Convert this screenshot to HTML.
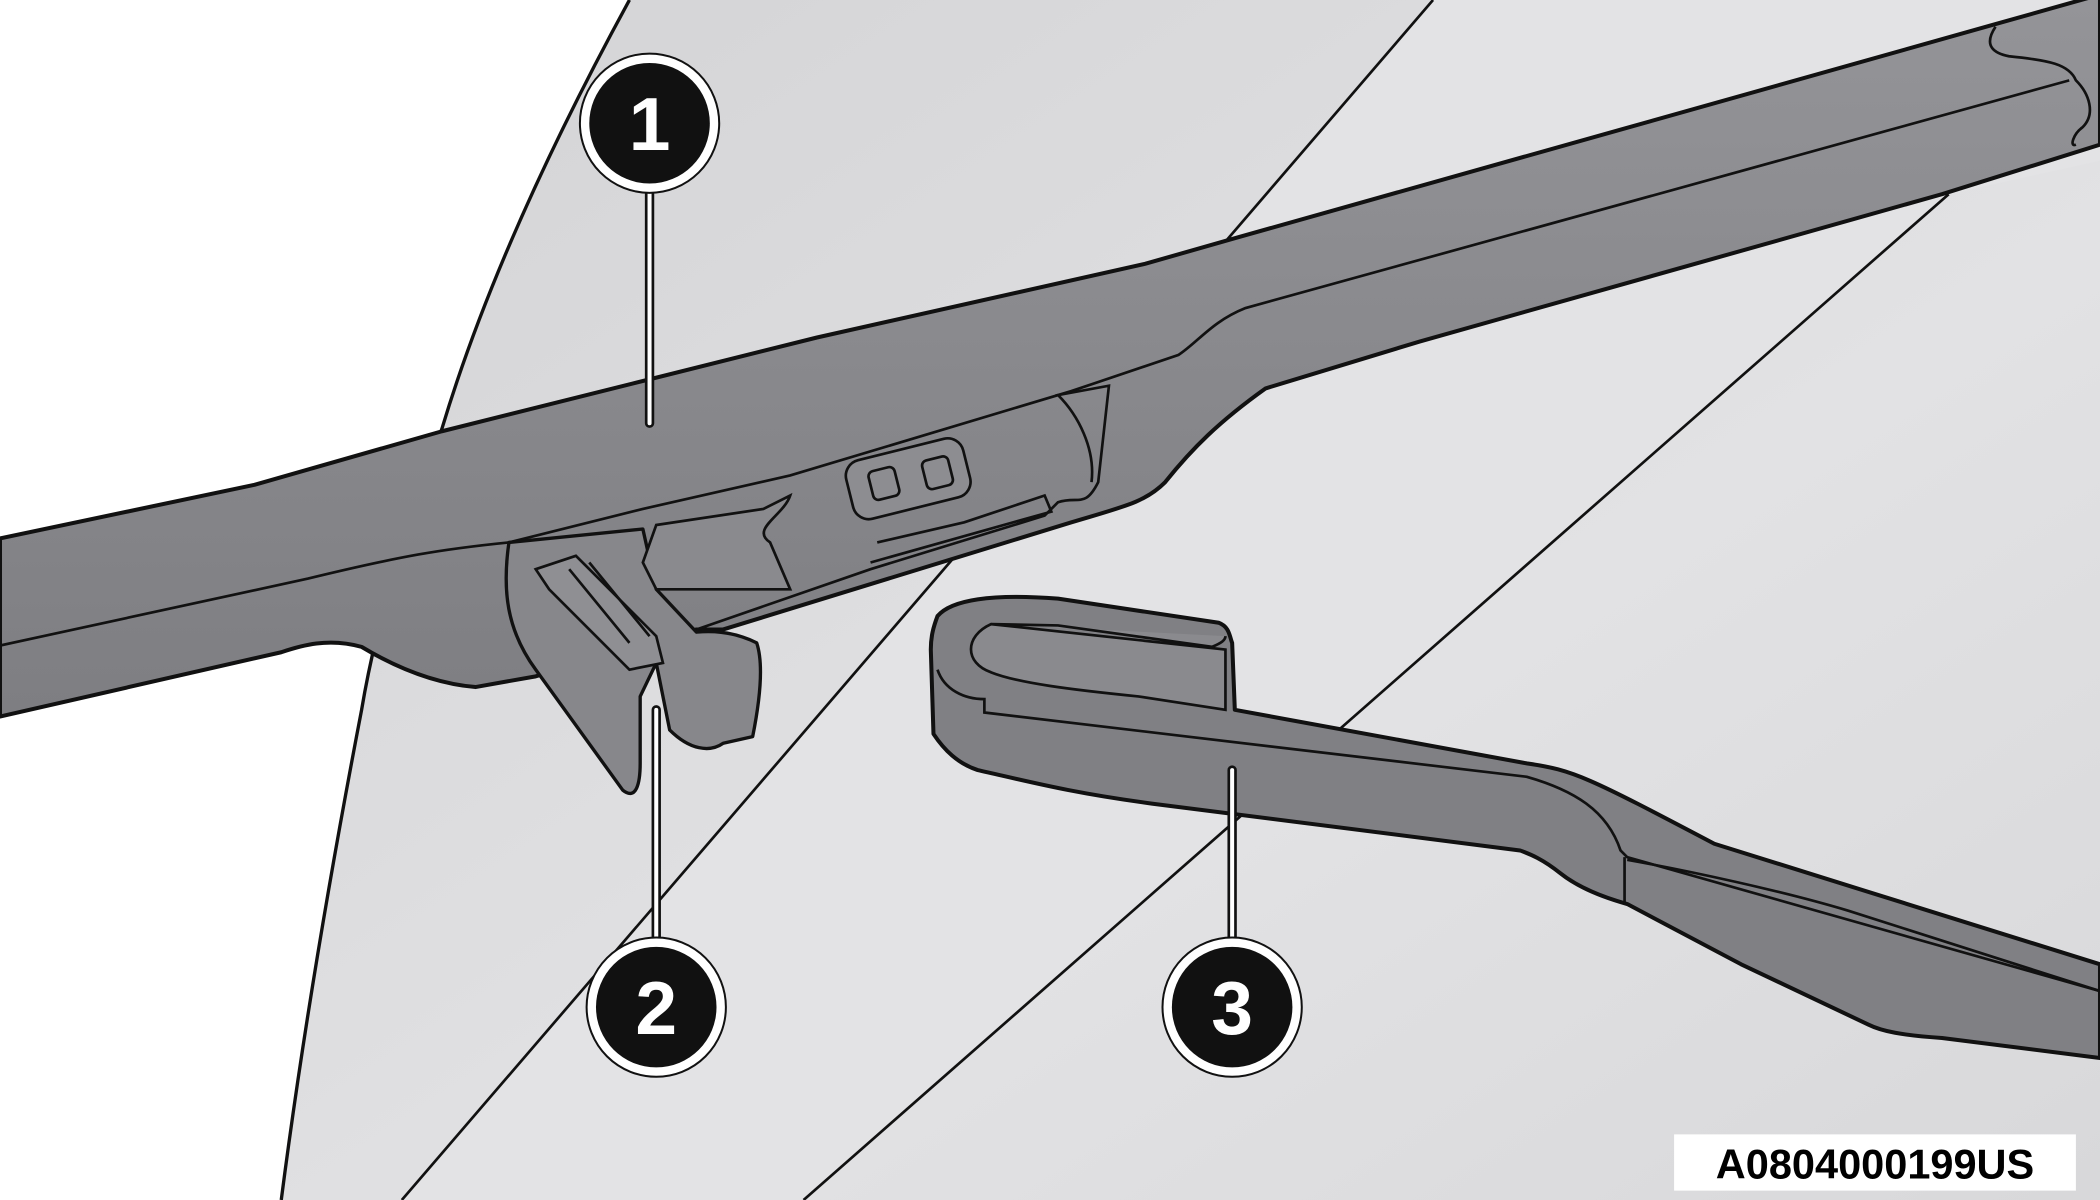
<!DOCTYPE html>
<html><head><meta charset="utf-8"><style>
html,body{margin:0;padding:0;background:#fff;width:2100px;height:1200px;overflow:hidden}
svg{display:block}
</style></head><body>
<svg width="2100" height="1200" viewBox="0 0 1568 896" xmlns="http://www.w3.org/2000/svg">
<defs>
<linearGradient id="g1" x1="0" y1="0" x2="1" y2="1">
<stop offset="0" stop-color="#d3d3d5"/><stop offset="0.6" stop-color="#e2e2e4"/><stop offset="1" stop-color="#d8d8da"/>
</linearGradient>
<linearGradient id="bl" x1="0" y1="0" x2="0" y2="1">
<stop offset="0" stop-color="#949498"/><stop offset="1" stop-color="#7e7e82"/>
</linearGradient>
</defs>
<rect width="1568" height="896" fill="#fff"/>
<!-- glass -->
<path d="M470,0 C410,110 360,220 330,320 C300,400 280,470 270,530 C245,660 225,780 210,896 L1568,896 L1568,0 Z" fill="url(#g1)"/>
<path d="M470,0 C410,110 360,220 330,320 C300,400 280,470 270,530 C245,660 225,780 210,896" fill="none" stroke="#111" stroke-width="2.5"/>
<path d="M1070,0 L300,896 L600,896 L1455,145 L1568,120 L1568,0 Z" fill="#e3e3e5"/>
<path d="M1070,0 L300,896" stroke="#111" stroke-width="2"/>
<path d="M1455,145 L600,896" stroke="#111" stroke-width="2"/>
<!-- blade -->
<path d="M0,402 L190,362 L330,322 L610,252 L855,197 L925,177 L1490,18 L1568,-4 L1568,108 L1450,145 L1060,255 L945,290 C910,315 890,335 870,360 C855,375 840,378 800,390 L540,470 L520,470 L400,505 L355,513 C320,510 290,495 270,483 C245,476 225,482 210,487 L0,535 Z" fill="url(#bl)" stroke="#111" stroke-width="3" stroke-linejoin="round"/>
<path d="M0,482 L230,432 C300,415 330,410 380,405 L480,380 L590,355 L800,292 L880,265 C895,255 905,240 930,230 L1545,60" fill="none" stroke="#111" stroke-width="2"/>
<path d="M1490,20 C1480,35 1490,40 1500,42 C1530,45 1545,48 1550,60 C1560,70 1565,85 1555,95 C1548,100 1545,110 1550,108" fill="none" stroke="#111" stroke-width="2"/>
<!-- attachment -->
<path d="M380,405 C375,440 378,470 400,500 L465,590 C475,598 478,585 478,570 L478,520 L490,495 L500,545 C515,560 530,562 540,555 L562,550 C568,520 570,495 565,480 C555,475 540,470 520,472 L490,440 L480,395 Z" fill="#87878b" stroke="#111" stroke-width="2.5" stroke-linejoin="round"/>
<path d="M400,425 L430,415 L490,475 L495,495 L470,500 L410,440 Z" fill="#8f8f93" stroke="#111" stroke-width="2"/>
<path d="M425,425 L470,480 M440,420 L485,475" stroke="#111" stroke-width="2"/>
<path d="M480,420 L490,392 L570,380 L590,370 C585,385 560,395 575,405 L590,440 L490,440 Z" fill="#8a8a8e" stroke="#111" stroke-width="2"/>
<path d="M520,470 L650,425 L780,385 L790,375 C805,370 810,380 820,360 L828,288 L790,295 C805,310 818,335 815,360" fill="none" stroke="#111" stroke-width="2"/>
<rect x="633" y="335" width="90" height="45" rx="12" transform="rotate(-14 678 357)" fill="#8d8d91" stroke="#111" stroke-width="2"/>
<rect x="650" y="350" width="20" height="22" rx="4" transform="rotate(-14 660 361)" fill="#8d8d91" stroke="#111" stroke-width="2"/>
<rect x="690" y="342" width="20" height="22" rx="4" transform="rotate(-14 700 353)" fill="#8d8d91" stroke="#111" stroke-width="2"/>
<path d="M655,405 L720,390 L780,370 L785,382 L650,420" fill="none" stroke="#111" stroke-width="2"/>
<!-- arm -->
<path d="M700,460 C710,448 740,443 790,447 L910,465 C918,468 918,475 920,480 L922,530 L1140,570 C1175,575 1185,580 1280,630 L1568,720 L1568,790 L1450,775 C1420,773 1405,770 1395,765 L1300,720 L1215,675 C1190,668 1175,660 1165,652 C1150,640 1140,637 1135,635 L860,600 C800,592 770,584 730,575 C715,570 705,560 697,548 L695,485 C695,475 697,468 700,460 Z" fill="#808084" stroke="#111" stroke-width="3" stroke-linejoin="round"/>
<path d="M740,466 L790,467 L905,483 C912,480 915,478 915,475 M915,485 L915,530 L850,520 C800,515 760,510 740,502 C720,495 720,475 740,466 Z" fill="#8a8a8e" stroke="#111" stroke-width="2"/>
<path d="M700,500 C705,515 720,522 735,522 L735,532 L1140,580 C1175,590 1200,605 1210,635 L1215,640 L1568,740" fill="none" stroke="#111" stroke-width="2"/>
<path d="M1213,640 L1213,675 M1215,642 C1260,650 1330,665 1380,680 L1568,740" fill="none" stroke="#111" stroke-width="2"/>
<!-- callouts -->
<g stroke-linecap="round">
<path d="M485,92 L485,316" stroke="#111" stroke-width="7"/><path d="M485,92 L485,316" stroke="#fff" stroke-width="3"/>
<path d="M490,530 L490,752" stroke="#111" stroke-width="7"/><path d="M490,530 L490,752" stroke="#fff" stroke-width="3"/>
<path d="M920,575 L920,752" stroke="#111" stroke-width="7"/><path d="M920,575 L920,752" stroke="#fff" stroke-width="3"/>
</g>
<g font-family="Liberation Sans, sans-serif" font-weight="bold" font-size="56" fill="#fff" text-anchor="middle">
<circle cx="485" cy="92" r="52" fill="#fff" stroke="#111" stroke-width="1.5"/><circle cx="485" cy="92" r="45" fill="#111"/><text x="485" y="112">1</text>
<circle cx="490" cy="752" r="52" fill="#fff" stroke="#111" stroke-width="1.5"/><circle cx="490" cy="752" r="45" fill="#111"/><text x="490" y="772">2</text>
<circle cx="920" cy="752" r="52" fill="#fff" stroke="#111" stroke-width="1.5"/><circle cx="920" cy="752" r="45" fill="#111"/><text x="920" y="772">3</text>
</g>
<rect x="1250" y="847" width="300" height="42" fill="#fff"/>
<text x="1400" y="880" font-family="Liberation Sans, sans-serif" font-weight="bold" font-size="31" fill="#000" text-anchor="middle">A0804000199US</text>
</svg>
</body></html>
